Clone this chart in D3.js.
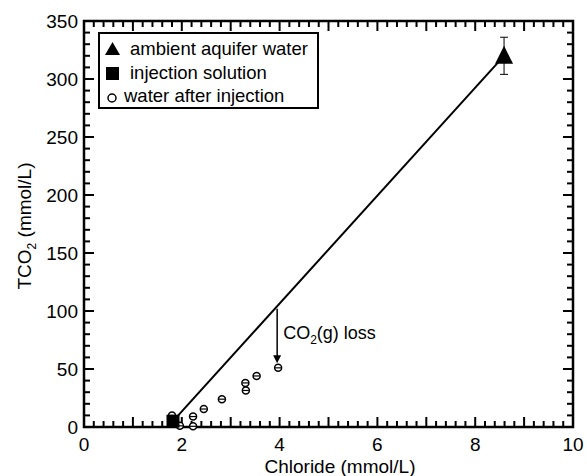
<!DOCTYPE html>
<html>
<head>
<meta charset="utf-8">
<script src="https://cdn.jsdelivr.net/npm/d3@7"></script>
<style>
  body { margin: 0; background: #fff; }
  text { font-family: "Liberation Sans", Arial, sans-serif; fill: #000; }
</style>
</head>
<body>
<div id="chart"></div>
<script>
// data
const ambient = [{x: 8.59, y: 320, err: 16}];
const injection = [{x: 1.82, y: 5}];
const afterX = [1.8, 1.96, 2.23, 2.23, 2.45, 2.82, 3.30, 3.31, 3.53, 3.97];
const afterY = [10, 1, 9, 0.6, 15.5, 24, 38, 31.5, 44, 51];
const mixLine = [{x: 1.82, y: 5}, {x: 8.59, y: 320}];
const lossArrow = {x: 3.95, from: 102, to: 55};
const xTicks = [0, 2, 4, 6, 8, 10];
const yTicks = [0, 50, 100, 150, 200, 250, 300, 350];
const legendItems = ["ambient aquifer water", "injection solution", "water after injection"];

const width = 587, height = 476;
const margin = {top: 21, right: 14, bottom: 49, left: 84};

const svg = d3.select("#chart").append("svg")
  .attr("width", width).attr("height", height);

const x = d3.scaleLinear().domain([0, 10]).range([margin.left, width - margin.right]);
const y = d3.scaleLinear().domain([0, 350]).range([height - margin.bottom, margin.top]);

const bottomY = y(0), topY = y(350), leftX = x(0), rightX = x(10);

// frame
svg.append("rect")
  .attr("x", leftX).attr("y", topY)
  .attr("width", rightX - leftX).attr("height", bottomY - topY)
  .attr("fill", "none").attr("stroke", "#000").attr("stroke-width", 2.5);

// inward tick marks on all four sides, minor + major
const xMinor = d3.range(0, 10.001, 0.2);
const yMinor = d3.range(0, 350.001, 10);
const xLen = d => Math.abs(d - Math.round(d)) < 1e-6 ? 10 : 6;
const yLen = d => d % 50 === 0 ? 10 : 6;

svg.append("g").attr("class", "tk").selectAll("line").data(xMinor).join("line")
  .attr("x1", d => x(d)).attr("x2", d => x(d))
  .attr("y1", bottomY).attr("y2", d => bottomY - xLen(d))
  .attr("stroke", "#000").attr("stroke-width", 2);
svg.append("g").attr("class", "tk").selectAll("line").data(xMinor).join("line")
  .attr("x1", d => x(d)).attr("x2", d => x(d))
  .attr("y1", topY).attr("y2", d => topY + xLen(d))
  .attr("stroke", "#000").attr("stroke-width", 2);
svg.append("g").attr("class", "tk").selectAll("line").data(yMinor).join("line")
  .attr("y1", d => y(d)).attr("y2", d => y(d))
  .attr("x1", leftX).attr("x2", d => leftX + yLen(d))
  .attr("stroke", "#000").attr("stroke-width", 2);
svg.append("g").attr("class", "tk").selectAll("line").data(yMinor).join("line")
  .attr("y1", d => y(d)).attr("y2", d => y(d))
  .attr("x1", rightX).attr("x2", d => rightX - yLen(d))
  .attr("stroke", "#000").attr("stroke-width", 2);

// tick labels
svg.append("g").selectAll("text").data(xTicks).join("text")
  .attr("x", d => x(d)).attr("y", bottomY + 24)
  .attr("text-anchor", "middle").attr("font-size", 19)
  .text(d => d);
svg.append("g").selectAll("text").data(yTicks).join("text")
  .attr("x", leftX - 6).attr("y", d => y(d) + 7)
  .attr("text-anchor", "end").attr("font-size", 19)
  .text(d => d);

// axis titles
svg.append("text")
  .attr("x", 340).attr("y", height - 3)
  .attr("text-anchor", "middle").attr("font-size", 19)
  .text("Chloride (mmol/L)");
const yt = svg.append("text")
  .attr("transform", `translate(31,226) rotate(-90)`)
  .attr("text-anchor", "middle").attr("font-size", 19);
yt.append("tspan").text("TCO");
yt.append("tspan").attr("font-size", 12).attr("dy", 5).text("2");
yt.append("tspan").attr("dy", -5).text(" (mmol/L)");

// mixing line
svg.append("path")
  .datum(mixLine)
  .attr("d", d3.line().x(d => x(d.x)).y(d => y(d.y)))
  .attr("stroke", "#000").attr("stroke-width", 2).attr("fill", "none");

// CO2 loss arrow (head drawn as a small path)
const ax = x(lossArrow.x), ayTip = y(lossArrow.to);
svg.append("line")
  .attr("x1", ax).attr("x2", ax)
  .attr("y1", y(lossArrow.from)).attr("y2", ayTip - 6)
  .attr("stroke", "#000").attr("stroke-width", 1.5);
svg.append("path")
  .attr("d", `M${ax - 4},${ayTip - 8} L${ax + 4},${ayTip - 8} L${ax},${ayTip} Z`)
  .attr("fill", "#000");
const lbl = svg.append("text")
  .attr("x", ax + 6).attr("y", 339)
  .attr("font-size", 18);
lbl.append("tspan").text("CO");
lbl.append("tspan").attr("font-size", 12).attr("dy", 5).text("2");
lbl.append("tspan").attr("dy", -5).text("(g) loss");

// water after injection: open circles with small error bars
const after = afterX.map((v, i) => ({x: v, y: afterY[i]}));
const ag = svg.append("g").selectAll("g").data(after).join("g")
  .attr("transform", d => `translate(${x(d.x)},${y(d.y)})`);
ag.append("circle").attr("r", 3.5)
  .attr("fill", "#fff").attr("stroke", "#000").attr("stroke-width", 1.5);
ag.append("line").attr("x1", -3).attr("x2", 3)
  .attr("stroke", "#000").attr("stroke-width", 1.2);

// injection solution
svg.append("g").selectAll("rect").data(injection).join("rect")
  .attr("x", d => x(d.x) - 6.5).attr("y", d => y(d.y) - 6.5)
  .attr("width", 13).attr("height", 13).attr("fill", "#000");

// ambient aquifer water with error bar
const am = svg.append("g").selectAll("g").data(ambient).join("g");
am.append("line")
  .attr("x1", d => x(d.x)).attr("x2", d => x(d.x))
  .attr("y1", d => y(d.y + d.err)).attr("y2", d => y(d.y - d.err))
  .attr("stroke", "#000").attr("stroke-width", 1);
am.selectAll(".cap").data(d => [d.y + d.err, d.y - d.err].map(v => ({x: d.x, v}))).join("line")
  .attr("x1", d => x(d.x) - 4).attr("x2", d => x(d.x) + 4)
  .attr("y1", d => y(d.v)).attr("y2", d => y(d.v))
  .attr("stroke", "#000").attr("stroke-width", 1);
am.append("path")
  .attr("transform", d => `translate(${x(d.x)},${y(d.y)})`)
  .attr("d", "M0,-10 L9,8 L-9,8 Z").attr("fill", "#000");

// legend
const legend = svg.append("g").attr("transform", "translate(99,33)");
legend.append("rect").attr("width", 219).attr("height", 75)
  .attr("fill", "#fff").attr("stroke", "#000").attr("stroke-width", 2);
legend.append("path").attr("d", "M13.5,9 L21,22 L6,22 Z").attr("fill", "#000");
legend.append("rect").attr("x", 7).attr("y", 34).attr("width", 13).attr("height", 13).attr("fill", "#000");
legend.append("circle").attr("cx", 13).attr("cy", 65).attr("r", 4)
  .attr("fill", "#fff").attr("stroke", "#000").attr("stroke-width", 1.5);
legend.selectAll(".lt").data(legendItems).join("text")
  .attr("x", (d, i) => i === 2 ? 25 : 31).attr("y", (d, i) => 22 + i * 23.5)
  .attr("font-size", 18.5).text(d => d);
</script>
</body>
</html>
